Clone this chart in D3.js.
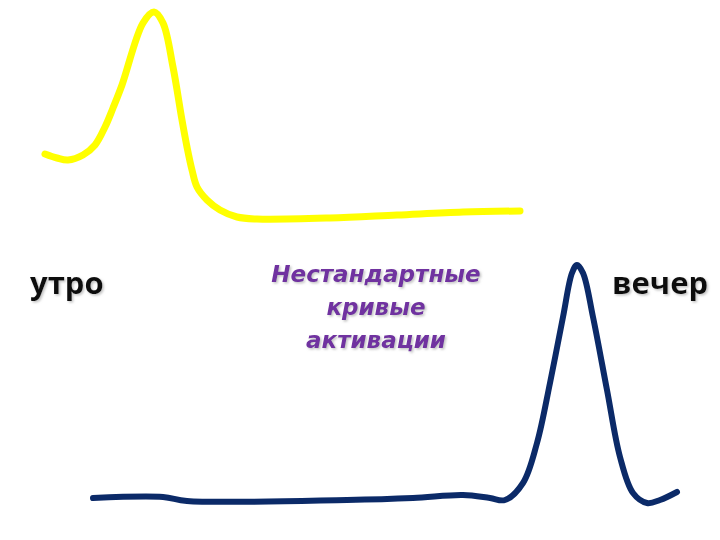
<!DOCTYPE html>
<html>
<head>
<meta charset="utf-8">
<script src="https://cdn.jsdelivr.net/npm/d3@7"></script>
<style>
  body { margin: 0; background: #fff; }
  svg { display: block; }
</style>
</head>
<body>
<svg id="chart"></svg>
<script>
// morning curve: time position and activation level
const morningTime = [45, 57, 68, 83, 95, 105, 113, 122, 143, 154, 163, 173, 182, 187, 192, 197, 207, 220, 237, 257, 330, 397, 463, 520];
const morningLevel = [386, 382, 380, 385, 395, 413, 432, 455, 517, 528, 517, 473, 420, 393, 370, 353, 340, 330, 323, 321, 322, 325, 328, 329];

// evening curve
const eveningTime = [93, 163, 187, 347, 413, 463, 490, 505, 523, 537, 550, 563, 572, 577, 583, 593, 607, 620, 633, 647, 660, 677];
const eveningLevel = [42, 43, 39, 40, 42, 45, 42, 40, 57, 97, 157, 223, 267, 275, 267, 223, 150, 83, 47, 37, 40, 48];

const labels = ["утро", "вечер"];
const titleLines = ["Нестандартные", "кривые", "активации"];

const width = 720, height = 540;

const svg = d3.select("#chart")
    .attr("width", width)
    .attr("height", height);

// soft shadow used by all the texts
const defs = svg.append("defs");
defs.append("filter")
    .attr("id", "shadow")
    .attr("x", "-10%").attr("y", "-20%")
    .attr("width", "130%").attr("height", "150%")
  .append("feDropShadow")
    .attr("dx", 1.5).attr("dy", 1.5)
    .attr("stdDeviation", 0.8)
    .attr("flood-color", "#999")
    .attr("flood-opacity", 0.6);

const x = d3.scaleLinear().domain([0, 720]).range([0, width]);
const y = d3.scaleLinear().domain([0, 540]).range([height, 0]);

const line = d3.line()
    .x(d => x(d[0]))
    .y(d => y(d[1]))
    .curve(d3.curveCatmullRom.alpha(0.5));

svg.append("path")
    .attr("d", line(d3.zip(morningTime, morningLevel)))
    .attr("fill", "none")
    .attr("stroke", "#ffff00")
    .attr("stroke-width", 7)
    .attr("stroke-linecap", "round")
    .attr("stroke-linejoin", "round");

svg.append("path")
    .attr("d", line(d3.zip(eveningTime, eveningLevel)))
    .attr("fill", "none")
    .attr("stroke", "#0b2a68")
    .attr("stroke-width", 6)
    .attr("stroke-linecap", "round")
    .attr("stroke-linejoin", "round");

const sideLabels = [
  { text: labels[0], x: 30, y: 294 },
  { text: labels[1], x: 612, y: 294 }
];

svg.selectAll(".side")
  .data(sideLabels)
  .join("text")
    .attr("class", "side")
    .attr("x", d => d.x).attr("y", d => d.y)
    .attr("font-family", "'Open Sans', sans-serif")
    .attr("font-size", 31)
    .attr("font-weight", "bold")
    .attr("fill", "#111")
    .attr("filter", "url(#shadow)")
    .text(d => d.text);

svg.selectAll(".title")
  .data(titleLines)
  .join("text")
    .attr("class", "title")
    .attr("x", 376).attr("y", (d, i) => 282 + i * 33)
    .attr("text-anchor", "middle")
    .attr("font-family", "'DejaVu Sans', sans-serif")
    .attr("font-size", 23)
    .attr("font-weight", "bold")
    .attr("font-style", "italic")
    .attr("fill", "#7030a0")
    .attr("filter", "url(#shadow)")
    .text(d => d);
</script>
</body>
</html>
